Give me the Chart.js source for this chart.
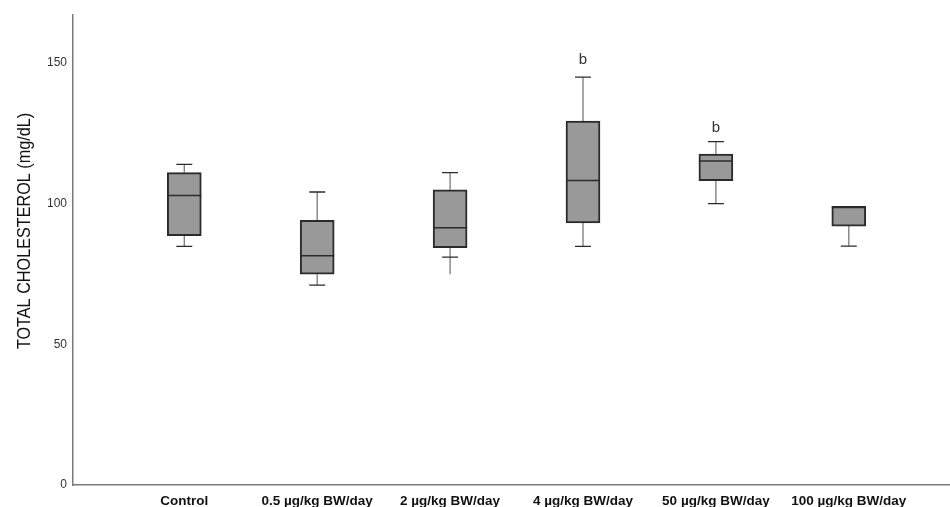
<!DOCTYPE html>
<html>
<head>
<meta charset="utf-8">
<script src="https://cdn.jsdelivr.net/npm/chart.js@4"></script>
<style>
  body { margin: 0; background: #fff; }
  #wrap { width: 950px; height: 507px; }
</style>
</head>
<body>
<div id="wrap"><canvas id="chart1"></canvas></div>
<script>
// groups and five-number summaries (mg/dL)
const groups = ["Control", "0.5 µg/kg BW/day", "2 µg/kg BW/day", "4 µg/kg BW/day", "50 µg/kg BW/day", "100 µg/kg BW/day"];
const maxVals = [113.9, 104.1, 111.0, 144.9, 122.0, 99.0];
const q3Vals  = [111.0, 94.0, 104.9, 129.3, 117.6, 99.0];
const medians = [102.9, 81.5, 91.4, 108.2, 115.1, 98.6];
const q1Vals  = [88.6, 74.9, 84.3, 93.1, 108.1, 92.0];
const minVals = [84.8, 71.0, 74.9, 84.8, 100.0, 84.9];
const minCaps = [84.8, 71.0, 81.0, 84.8, 100.0, 84.9];

// significance letters and where they sit on the value axis
const letters = ["", "", "", "b", "b", ""];
const letterY = [null, null, null, 151, 127, null];

const yTicks = [0, 50, 100, 150];
const yTitle = "TOTAL CHOLESTEROL (mg/dL)";

const xPos = groups.map((g, i) => i + 1);
const capHalf = 0.06;
const boxHalf = 0.128;

function segments(pairs) {
    // pairs of [x1,y1,x2,y2] -> point list with gaps between segments
    const pts = [];
    pairs.forEach(p => {
        pts.push({ x: p[0], y: p[1] }, { x: p[2], y: p[3] }, { x: p[0], y: null });
    });
    return pts;
}

const whiskerData = segments(xPos.flatMap((x, i) => [
    [x, q1Vals[i], x, minVals[i]],
    [x, q3Vals[i], x, maxVals[i]]
]));
const capData = segments(xPos.flatMap((x, i) => {
    const c = [[x - capHalf, minCaps[i], x + capHalf, minCaps[i]]];
    if (maxVals[i] > q3Vals[i]) c.push([x - capHalf, maxVals[i], x + capHalf, maxVals[i]]);
    return c;
}));
const medianData = segments(xPos.map((x, i) => [x - boxHalf, medians[i], x + boxHalf, medians[i]]));

const extras = {
    id: "extras",
    afterDraw(chart) {
        const { ctx, scales } = chart;
        ctx.save();
        ctx.fillStyle = "#333";
        ctx.font = "15px 'Liberation Sans', Arial, sans-serif";
        ctx.textAlign = "center";
        ctx.textBaseline = "middle";
        letters.forEach((t, i) => {
            if (!t) return;
            ctx.fillText(t, scales.x.getPixelForValue(xPos[i]), scales.y.getPixelForValue(letterY[i]));
        });
        // y title, a bit condensed like the original
        ctx.translate(25, 231);
        ctx.rotate(-Math.PI / 2);
        ctx.scale(0.9, 1);
        ctx.fillStyle = "#111";
        ctx.font = "18px 'Liberation Sans', Arial, sans-serif";
        ctx.fillText(yTitle, 0, 0);
        ctx.restore();
    }
};

new Chart(document.getElementById("chart1"), {
    type: "bar",
    data: {
        datasets: [
            {
                type: "scatter",
                data: whiskerData,
                showLine: true,
                spanGaps: false,
                borderColor: "#7a7a7a",
                borderWidth: 1.3,
                pointRadius: 0,
                order: 3
            },
            {
                type: "bar",
                data: xPos.map((x, i) => ({ x: x, y: [q1Vals[i], q3Vals[i]] })),
                backgroundColor: "#999999",
                borderColor: "#2b2b2b",
                borderWidth: 2,
                borderSkipped: false,
                barThickness: 34,
                order: 2
            },
            {
                type: "scatter",
                data: medianData,
                showLine: true,
                spanGaps: false,
                borderColor: "#2b2b2b",
                borderWidth: 1.5,
                pointRadius: 0,
                order: 1
            },
            {
                type: "scatter",
                data: capData,
                showLine: true,
                spanGaps: false,
                borderColor: "#2b2b2b",
                borderWidth: 1.3,
                pointRadius: 0,
                order: 1
            }
        ]
    },
    options: {
        responsive: true,
        maintainAspectRatio: false,
        animation: false,
        layout: { padding: { left: 0, top: 15, right: 1, bottom: 0 } },
        plugins: {
            legend: { display: false },
            tooltip: { enabled: false }
        },
        scales: {
            x: {
                type: "linear",
                offset: false,
                min: 0.1626,
                max: 6.754,
                afterBuildTicks: (scale) => { scale.ticks = xPos.map(v => ({ value: v })); },
                afterFit: (scale) => { scale.height = 22; },
                grid: { display: false, drawTicks: false },
                border: { display: true, color: "#7a7a7a", width: 1.5 },
                ticks: {
                    autoSkip: false,
                    maxRotation: 0,
                    padding: 8,
                    color: "#111",
                    font: { family: "'Liberation Sans', Arial, sans-serif", size: 13.5, weight: "bold" },
                    callback: (v) => groups[v - 1]
                }
            },
            y: {
                min: 0,
                max: 167,
                afterBuildTicks: (scale) => { scale.ticks = yTicks.map(v => ({ value: v })); },
                afterFit: (scale) => { scale.width = 73; },
                grid: { display: false, drawTicks: false },
                border: { display: true, color: "#7a7a7a", width: 1.5 },
                ticks: {
                    padding: 6,
                    color: "#333",
                    font: { family: "'Liberation Sans', Arial, sans-serif", size: 12 }
                }
            }
        }
    },
    plugins: [extras]
});
</script>
</body>
</html>
